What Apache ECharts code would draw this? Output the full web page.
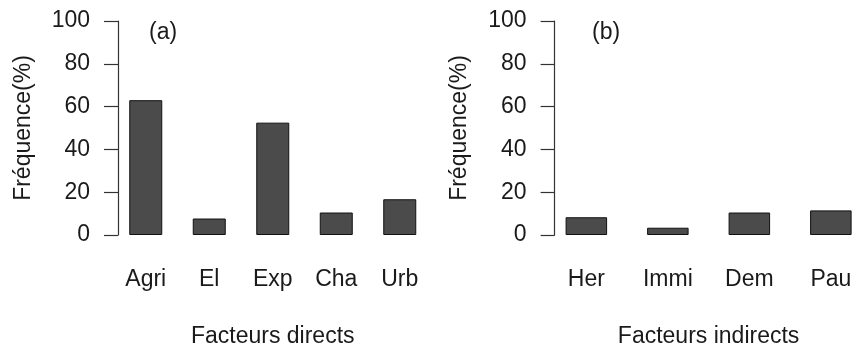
<!DOCTYPE html>
<html>
<head>
<meta charset="utf-8">
<script src="https://cdn.jsdelivr.net/npm/echarts@6/dist/echarts.min.js"></script>
<style>
  html, body { margin: 0; padding: 0; background: #ffffff; overflow: hidden; }
  #chart { width: 853px; height: 346px; }
</style>
</head>
<body>
<div id="chart"></div>
<script>
// Direct drivers (panel a)
const directCategories = ['Agri', 'El', 'Exp', 'Cha', 'Urb'];
const directValues = [63, 7.7, 52.5, 10.5, 16.7];

// Indirect drivers (panel b)
const indirectCategories = ['Her', 'Immi', 'Dem', 'Pau'];
const indirectValues = [8.3, 3.4, 10.5, 11.5];

const yTicks = [0, 20, 40, 60, 80, 100];
const yName = 'Fréquence(%)';
const panelTags = ['(a)', '(b)'];
const xNames = ['Facteurs directs', 'Facteurs indirects'];

const FONT = '"Liberation Sans", Arial, Helvetica, sans-serif';
const TXT = '#1a1a1a';
const FS = 23;

const chart = echarts.init(document.getElementById('chart'), null, { renderer: 'canvas' });

function yAxisFor(gridIndex, offset) {
  return {
    type: 'value',
    gridIndex: gridIndex,
    min: yTicks[0],
    max: yTicks[yTicks.length - 1],
    interval: 20,
    offset: offset,
    name: yName,
    nameLocation: 'middle',
    nameGap: 83,
    nameTextStyle: { fontFamily: FONT, fontSize: FS, color: TXT },
    axisLine: { show: true, lineStyle: { color: '#333333', width: 1.2 } },
    axisTick: { show: true, length: 14, lineStyle: { color: '#333333', width: 1.2 } },
    axisLabel: { margin: 28, fontFamily: FONT, fontSize: FS, color: TXT },
    splitLine: { show: false }
  };
}

function xAxisFor(gridIndex, cats, name) {
  return {
    type: 'category',
    gridIndex: gridIndex,
    data: cats,
    boundaryGap: true,
    name: name,
    nameLocation: 'middle',
    nameGap: 90,
    nameTextStyle: { fontFamily: FONT, fontSize: FS, color: TXT },
    axisLine: { show: false },
    axisTick: { show: false },
    axisLabel: { margin: 33, fontFamily: FONT, fontSize: FS, color: TXT, interval: 0 },
    splitLine: { show: false }
  };
}

const barStyle = { color: '#4b4b4b', borderColor: '#111111', borderWidth: 1 };

chart.setOption({
  backgroundColor: '#ffffff',
  animation: false,
  grid: [
    { left: 114, top: 21, width: 317.5, height: 214, outerBoundsMode: 'none', containLabel: false },
    { left: 545.6, top: 21, width: 326, height: 214, outerBoundsMode: 'none', containLabel: false }
  ],
  xAxis: [
    xAxisFor(0, directCategories, xNames[0]),
    xAxisFor(1, indirectCategories, xNames[1])
  ],
  yAxis: [
    yAxisFor(0, -4),
    yAxisFor(1, -9)
  ],
  graphic: [
    { type: 'text', left: 149, top: 21, style: { text: panelTags[0], font: FS + 'px ' + FONT, fill: TXT } },
    { type: 'text', left: 592, top: 21, style: { text: panelTags[1], font: FS + 'px ' + FONT, fill: TXT } }
  ],
  series: [
    {
      type: 'bar', xAxisIndex: 0, yAxisIndex: 0,
      data: directValues, barWidth: 33,
      itemStyle: barStyle
    },
    {
      type: 'bar', xAxisIndex: 1, yAxisIndex: 1,
      data: indirectValues, barWidth: 41.5,
      itemStyle: barStyle
    }
  ]
});
</script>
</body>
</html>
